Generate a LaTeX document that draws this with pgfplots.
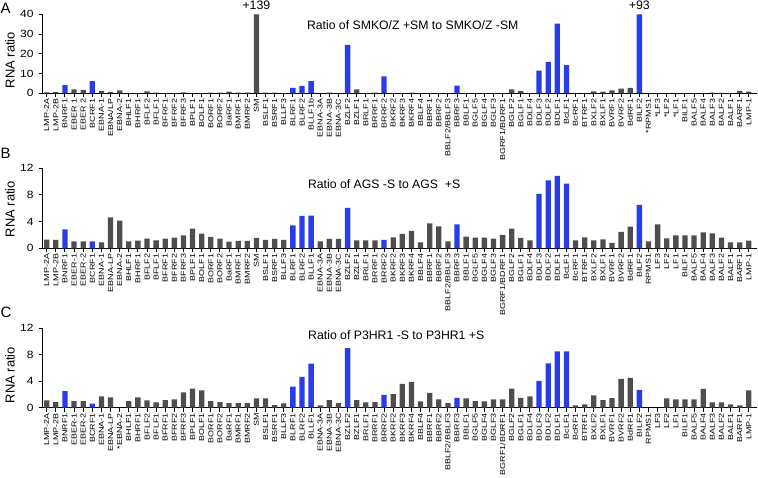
\documentclass[border=0pt]{standalone}
\usepackage{pgfplots}
\usepackage{pgfplotstable}
\pgfplotsset{compat=1.18}
\usepackage{fontspec}
\setmainfont{Liberation Sans}
\newfontfamily\xlabfont{Liberation Sans}[FakeStretch=1.25]
\newfontfamily\ylabfont{Liberation Sans}[FakeStretch=1.15]
\definecolor{barblue}{RGB}{40,60,235}
\definecolor{bargray}{RGB}{78,78,78}

% Panel A
\pgfplotstableread{
x y
0 0.5
1 0.6
3 2.0
4 1.7
6 1.2
7 0.7
8 1.5
9 0.1
10 0.1
11 1.0
12 0.3
13 0.1
14 0.1
15 0.5
16 0.1
17 0.1
18 0.4
19 0.4
20 0.8
21 0.4
22 0.4
23 40
24 0.3
25 0.3
26 0.1
30 0
31 0.3
32 0
34 2.0
35 0.1
36 0.3
38 0.1
39 0.1
40 0.3
41 0.1
42 0.1
43 0.1
44 0.1
46 0.1
47 0.1
48 0.1
49 0.1
50 0.1
51 2.0
52 1.2
53 0.1
58 0.1
59 0.1
60 1.0
61 0.8
62 1.5
63 2.4
64 2.7
66 0
67 0
68 0
69 0
70 0.1
71 0.1
72 0.1
73 0.3
74 0.2
75 0.1
76 1.2
77 0.8
}\Agray
\pgfplotstableread{
x y
2 4.2
5 6.1
27 2.7
28 3.7
29 6.2
33 24.5
37 8.6
45 3.9
54 11.5
55 15.9
56 35.3
57 14.3
65 40
}\Ablue

% Panel B
\pgfplotstableread{
x y
0 1.3
1 1.25
3 1.05
4 1.05
6 0.9
7 4.65
8 4.15
9 1.05
10 1.15
11 1.45
12 1.2
13 1.45
14 1.6
15 1.95
16 2.95
17 2.2
18 1.7
19 1.45
20 1.0
21 1.1
22 1.1
23 1.55
24 1.25
25 1.4
26 1.25
30 1.05
31 1.4
32 1.4
34 1.2
35 1.2
36 1.2
38 1.65
39 2.15
40 2.6
41 0.9
42 3.75
43 3.3
44 1.05
46 1.75
47 1.6
48 1.6
49 1.45
50 2.0
51 2.95
52 1.55
53 1.2
58 1.2
59 1.65
60 1.2
61 1.35
62 0.8
63 2.45
64 3.25
66 1.05
67 3.6
68 1.5
69 1.95
70 1.95
71 1.95
72 2.4
73 2.25
74 1.6
75 0.9
76 0.9
77 1.15
}\Bgray
\pgfplotstableread{
x y
2 2.85
5 1.05
27 3.45
28 4.85
29 4.9
33 6.05
37 1.25
45 3.6
54 8.15
55 10.2
56 10.85
57 9.7
65 6.5
}\Bblue

% Panel C
\pgfplotstableread{
x y
0 1.1
1 0.85
3 1.0
4 1.0
6 1.7
7 1.55
8 0
9 1.0
10 1.55
11 1.1
12 0.8
13 1.15
14 1.25
15 2.3
16 2.9
17 2.6
18 1.0
19 0.85
20 0.7
21 0.7
22 0.7
23 1.4
24 1.4
25 0.4
26 0.65
30 0.35
31 1.15
32 0.7
34 1.15
35 0.8
36 0.85
38 2.05
39 3.6
40 3.9
41 0.95
42 2.25
43 1.25
44 0.7
46 1.4
47 1.0
48 0.95
49 1.25
50 1.25
51 2.9
52 1.5
53 1.7
58 0.35
59 0.5
60 1.85
61 1.15
62 1.45
63 4.35
64 4.5
66 0
67 0
68 1.4
69 1.25
70 1.25
71 1.25
72 2.85
73 0.8
74 0.8
75 0.5
76 0.35
77 2.6
}\Cgray
\pgfplotstableread{
x y
2 2.5
5 0.6
27 3.2
28 4.65
29 6.65
33 9.0
37 1.95
45 1.5
54 4.05
55 6.7
56 8.5
57 8.5
65 2.7
}\Cblue

\pgfplotsset{
  panel/.style={
    scale only axis, width=714.3bp, xmin=-0.44, xmax=77.9, ymin=0,
    axis x line=bottom, axis y line=left,
    axis line style={-, line width=1.1bp},
    tick align=outside, major tick length=4bp,
    every tick/.style={black, line width=1bp},
    xtick={0,...,77},
    xticklabel style={rotate=90, anchor=east, inner xsep=1.5bp, inner ysep=0pt,
      font=\xlabfont\fontsize{7.2}{8}\selectfont},
    yticklabel style={inner sep=0pt, xshift=-5bp,
      font=\ylabfont\fontsize{10.5}{11}\selectfont},
    /pgf/number format/assume math mode=true,
    clip=false,
  },
  gbar/.style={ybar, bar width=5.3bp, bar shift=0pt, fill=bargray, draw=none},
  bbar/.style={ybar, bar width=5.3bp, bar shift=0pt, fill=barblue, draw=none},
}
\tikzset{
  ylab/.style={rotate=90, font=\fontsize{13}{14}\selectfont, anchor=center},
  ttl/.style={anchor=base, inner sep=0pt, font=\fontsize{12.3}{13}\selectfont},
}

\begin{document}
\begin{tikzpicture}
\useasboundingbox (0,0) rectangle (758bp,478bp);

% ---------------- Panel A ----------------
\begin{axis}[panel, at={(42.7bp,384.7bp)}, anchor=south west, height=79bp,
  ymax=40, ytick={0,10,20,30,40},
  xticklabels={LMP-2A,LMP-2B,BNRF1,EBER 1,EBER 2,BCRF1,EBNA-1,EBNA/LP,EBNA-2,BHLF1,BHRF1,BFLF2,BFLF1,BFRF1,BFRF2,BFRF3,BPLF1,BOLF1,BORF1,BORF2,BaRF1,BMRF1,BMRF2,SM,BSLF1,BSRF1,BLLF3,BLRF1,BLRF2,BLLF1b,EBNA-3A,EBNA-3B,EBNA-3C,BZLF2,BZLF1,BRLF1,BRRF1,BRRF2,BKRF2,BKRF3,BKRF4,BBLF4,BBRF1,BBRF2,BBLF2/BBLF3,BBRF3,BBLF1,BGLF5,BGLF4,BGLF3,BGRF1/BDRF1,BGLF2,BGLF1,BDLF4,BDLF3,BDLF2,BDLF1,BcLF1,BcRF1,BTRF1,BXLF2,BXLF1,BVRF1,BVRF2,BdRF1,BILF2,*RPMS1,*LF3,*LF2,*LF1,BILF1,BALF5,BALF4,BALF3,BALF2,BALF1,BARF1,LMP-1},
]
\addplot[gbar] table[x=x,y=y] {\Agray};
\addplot[bbar] table[x=x,y=y] {\Ablue};
\node[ylab] at (rel axis cs:-0.0458,0.42) {RNA ratio};
\node[ttl] at (rel axis cs:0.518,0.81) {Ratio of SMKO/Z +SM to SMKO/Z -SM};
\node[ttl, yshift=5bp, font=\fontsize{12.4}{13}\selectfont] at (axis cs:23,40) {+139};
\node[ttl, yshift=5bp, font=\fontsize{12.4}{13}\selectfont] at (axis cs:65,40) {+93};
\end{axis}

% ---------------- Panel B ----------------
\begin{axis}[panel, at={(42.7bp,229.7bp)}, anchor=south west, height=80bp,
  ymax=12, ytick={0,4,8,12},
  xticklabels={LMP-2A,LMP-2B,BNRF1,EBER-1,EBER-2,BCRF1,EBNA-1,EBNA-LP,EBNA-2,BHLF1,BHRF1,BFLF2,BFLF1,BFRF1,BFRF2,BFRF3,BPLF1,BOLF1,BORF1,BORF2,BaRF1,BMRF1,BMRF2,SM,BSLF1,BSRF1,BLLF3,BLRF1,BLRF2,BLLF1,EBNA-3A,EBNA-3B,EBNA-3C,BZLF2,BZLF1,BRLF1,BRRF1,BRRF2,BKRF2,BKRF3,BKRF4,BBLF4,BBRF1,BBRF2,BBLF2/BBLF3,BBRF3,BBLF1,BGLF5,BGLF4,BGLF3,BGRF1/BDRF1,BGLF2,BGLF1,BDLF4,BDLF3,BDLF2,BDLF1,BcLF1,BcRF1,BTRF1,BXLF2,BXLF1,BVRF1,BVRF2,BdRF1,BILF2,RPMS1,LF3,LF2,LF1,BILF1,BALF5,BALF4,BALF3,BALF2,BALF1,BARF1,LMP-1},
]
\addplot[gbar] table[x=x,y=y] {\Bgray};
\addplot[bbar] table[x=x,y=y] {\Bblue};
\node[ylab] at (rel axis cs:-0.0458,0.49) {RNA ratio};
\node[ttl] at (rel axis cs:0.478,0.75) {Ratio of AGS -S to AGS \ +S};
\end{axis}

% ---------------- Panel C ----------------
\begin{axis}[panel, at={(42.7bp,70.3bp)}, anchor=south west, height=79.4bp,
  ymax=12, ytick={0,4,8,12},
  xticklabels={LMP-2A,LMP-2B,BNRF1,EBER-1,EBER-2,BCRF1,EBNA-1,EBNA-LP,*EBNA-2,BHLF1,BHRF1,BFLF2,BFLF1,BFRF1,BFRF2,BFRF3,BPLF1,BOLF1,BORF1,BORF2,BaRF1,BMRF1,BMRF2,SM,BSLF1,BSRF1,BLLF3,BLRF1,BLRF2,BLLF1,EBNA-3A,EBNA-3B,EBNA-3C,BZLF2,BZLF1,BRLF1,BRRF1,BRRF2,BKRF2,BKRF3,BKRF4,BBLF4,BBRF1,BBRF2,BBLF2/BBLF3,BBRF3,BBLF1,BGLF5,BGLF4,BGLF3,BGRF1/BDRF1,BGLF2,BGLF1,BDLF4,BDLF3,BDLF2,BDLF1,BcLF1,BcRF1,BTRF1,BXLF2,BXLF1,BVRF1,BVRF2,BdRF1,BILF2,RPMS1,LF3,LF2,LF1,BILF1,BALF5,BALF4,BALF3,BALF2,BALF1,BARF1,LMP-1},
]
\addplot[gbar] table[x=x,y=y] {\Cgray};
\addplot[bbar] table[x=x,y=y] {\Cblue};
\node[ylab] at (rel axis cs:-0.0458,0.41) {RNA ratio};
\node[ttl] at (rel axis cs:0.495,0.853) {Ratio of P3HR1 -S to P3HR1 +S};
\end{axis}

% panel letters
\node[anchor=base west, inner sep=0pt, font=\fontsize{15}{15}\selectfont] at (0.5bp,464bp) {A};
\node[anchor=base west, inner sep=0pt, font=\fontsize{15}{15}\selectfont] at (0.5bp,319bp) {B};
\node[anchor=base west, inner sep=0pt, font=\fontsize{15}{15}\selectfont] at (0.5bp,160bp) {C};
\end{tikzpicture}
\end{document}
